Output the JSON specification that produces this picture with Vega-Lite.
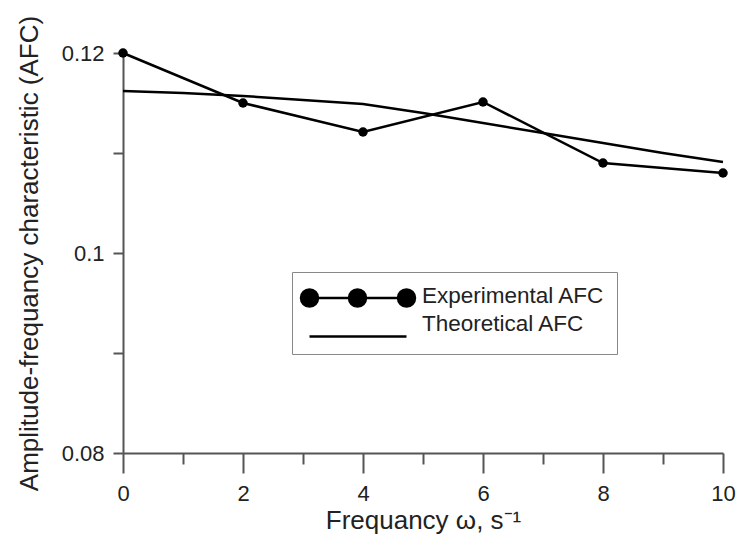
{
  "$schema": "https://vega.github.io/schema/vega-lite/v6.json",
  "width": 600,
  "height": 400,
  "autosize": {"type": "none"},
  "padding": {"left": 123, "top": 53, "right": 14, "bottom": 86},
  "background": "white",
  "config": {"view": {"stroke": null}, "font": "Liberation Sans"},
  "data": {
    "values": [
      {"freq": 0, "afc": 0.1200, "series": "Experimental AFC"},
      {"freq": 2, "afc": 0.1150, "series": "Experimental AFC"},
      {"freq": 4, "afc": 0.1121, "series": "Experimental AFC"},
      {"freq": 6, "afc": 0.1151, "series": "Experimental AFC"},
      {"freq": 8, "afc": 0.1090, "series": "Experimental AFC"},
      {"freq": 10, "afc": 0.1080, "series": "Experimental AFC"},
      {"freq": 0, "afc": 0.1162, "series": "Theoretical AFC"},
      {"freq": 1, "afc": 0.1160, "series": "Theoretical AFC"},
      {"freq": 2, "afc": 0.1157, "series": "Theoretical AFC"},
      {"freq": 3, "afc": 0.1153, "series": "Theoretical AFC"},
      {"freq": 4, "afc": 0.1149, "series": "Theoretical AFC"},
      {"freq": 5, "afc": 0.1140, "series": "Theoretical AFC"},
      {"freq": 6, "afc": 0.1130, "series": "Theoretical AFC"},
      {"freq": 7, "afc": 0.1120, "series": "Theoretical AFC"},
      {"freq": 8, "afc": 0.1110, "series": "Theoretical AFC"},
      {"freq": 9, "afc": 0.1100, "series": "Theoretical AFC"},
      {"freq": 10, "afc": 0.1091, "series": "Theoretical AFC"}
    ]
  },
  "layer": [
    {
      "mark": {"type": "line", "strokeWidth": 2.5},
      "encoding": {
        "x": {
          "field": "freq",
          "type": "quantitative",
          "scale": {"domain": [0, 10], "nice": false, "zero": false},
          "axis": {
            "title": "Frequancy ω, s⁻¹",
            "values": [0, 1, 2, 3, 4, 5, 6, 7, 8, 9, 10],
            "labelExpr": "datum.value % 2 == 0 ? datum.value : ''",
            "labelFlush": false,
            "tickSize": {"condition": {"test": "datum.value % 2 == 0", "value": 20}, "value": 11},
            "labelPadding": 10,
            "labelFontSize": 22,
            "labelColor": "#222",
            "labelFont": "Liberation Sans",
            "titleFont": "Liberation Sans",
            "titleFontSize": 26,
            "titleFontWeight": "normal",
            "titleColor": "#222",
            "titlePadding": 3,
            "domainColor": "#555",
            "domainWidth": 2,
            "tickColor": "#555",
            "tickWidth": 2,
            "grid": false
          }
        },
        "y": {
          "field": "afc",
          "type": "quantitative",
          "scale": {"domain": [0.08, 0.12], "nice": false, "zero": false},
          "axis": {
            "title": "Amplitude-frequancy characteristic (AFC)",
            "values": [0.08, 0.09, 0.1, 0.11, 0.12],
            "labelExpr": "round(datum.value * 100) % 2 == 0 ? format(datum.value, '~g') : ''",
            "tickSize": 10,
            "labelPadding": 9,
            "labelFontSize": 22,
            "labelColor": "#222",
            "labelFont": "Liberation Sans",
            "titleFont": "Liberation Sans",
            "titleFontSize": 26,
            "titleFontWeight": "normal",
            "titleColor": "#222",
            "titlePadding": 19,
            "domainColor": "#555",
            "domainWidth": 2,
            "tickColor": "#555",
            "tickWidth": 2,
            "grid": false
          }
        },
        "color": {
          "field": "series",
          "type": "nominal",
          "scale": {"domain": ["Experimental AFC", "Theoretical AFC"], "range": ["black", "black"]},
          "legend": {
            "title": null,
            "orient": "none",
            "legendX": 169,
            "legendY": 219,
            "padding": 12,
            "rowPadding": 0,
            "strokeColor": "#888",
            "fillColor": "white",
            "labelFontSize": 22.5,
            "labelColor": "#222",
            "labelFont": "Liberation Sans",
            "labelLimit": 300,
            "symbolSize": 400,
            "symbolStrokeWidth": 2.5,
            "symbolOffset": -6,
            "labelOffset": 101,
            "encode": {
              "symbols": {
                "update": {
                  "shape": {"signal": "datum.value === 'Experimental AFC' ? 'M0,0.25L9.7,0.25M-0.85,0.25A0.85,0.85 0 1,0 0.85,0.25A0.85,0.85 0 1,0 -0.85,0.25ZM3.95,0.25A0.85,0.85 0 1,0 5.65,0.25A0.85,0.85 0 1,0 3.95,0.25ZM8.85,0.25A0.85,0.85 0 1,0 10.55,0.25A0.85,0.85 0 1,0 8.85,0.25Z' : 'M0,1.3L9.7,1.3'"},
                  "fill": {"value": "black"},
                  "stroke": {"value": "black"},
                  "strokeWidth": {"value": 2.5},
                  "size": {"value": 400}
                }
              }
            }
          }
        }
      }
    },
    {
      "transform": [{"filter": "datum.series == 'Experimental AFC'"}],
      "mark": {"type": "point", "filled": true, "size": 90, "color": "black", "opacity": 1},
      "encoding": {
        "x": {"field": "freq", "type": "quantitative"},
        "y": {"field": "afc", "type": "quantitative"}
      }
    }
  ]
}
